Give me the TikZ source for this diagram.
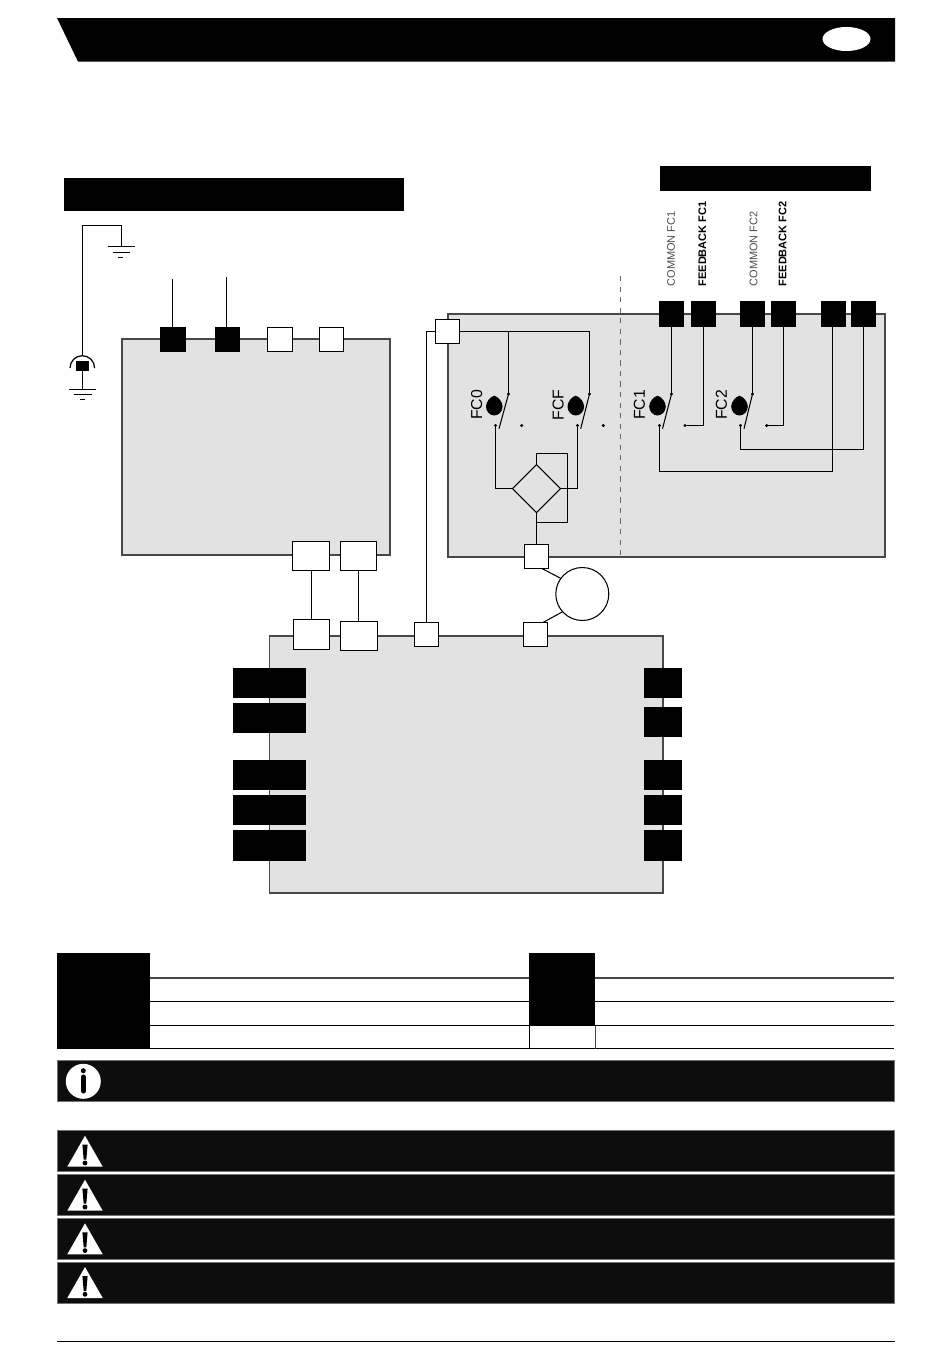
\documentclass[tikz,border=0pt]{standalone}
\usepackage{fontspec}
\setmainfont{Liberation Sans}
\usetikzlibrary{calc,shapes.geometric}
\definecolor{panelgray}{HTML}{E2E2E2}
\definecolor{edgegray}{HTML}{484848}
\definecolor{barblack}{HTML}{0D0D0D}
\tikzset{
  wh/.style 2 args={minimum width=#1*0.02cm, minimum height=#2*0.02cm, inner sep=0pt, outer sep=0pt},
  wire/.style={line width=0.6pt},
  panel/.style={fill=panelgray, draw=edgegray, line width=0.9pt},
  whiteport/.style={fill=white, draw=black, line width=0.6pt},
  blackport/.style={fill=black},
  bar/.style={fill=barblack, draw=black!55, line width=0.3pt},
  contact/.style={circle, fill=black, wh={3.4}{3.4}},
  swlabel/.style={rotate=90, font=\fontsize{9}{9}\selectfont},
  cmlabel/.style={rotate=90, anchor=west, inner sep=0pt, font=\fontsize{6.25}{6.25}\selectfont, text=black!70},
  fblabel/.style={rotate=90, anchor=west, inner sep=0pt, font=\fontsize{6.25}{6.25}\selectfont\bfseries},
  cam/.pic={
    \fill (0,-10) .. controls (4,-9) and (8.3,-4) .. (8.3,1) .. controls (8.3,5.5) and (4.5,9.8) .. (0,9.8)
      .. controls (-4.5,9.8) and (-8.3,5.5) .. (-8.3,1) .. controls (-8.3,-4) and (-4,-9) .. (0,-10) -- cycle;
  },
  warning/.pic={
    \fill [white] (0,0) -- (17.7,31) -- (-17.7,31) -- cycle;
    \fill [black] (-2.6,9) -- (2.6,9) -- (1.3,24) -- (-1.3,24) -- cycle;
    \fill [black] (0,27.3) circle (2.4);
  },
}

\begin{document}
\begin{tikzpicture}[x=0.02cm, y=-0.02cm]
  \useasboundingbox (0,0) rectangle (950,1370);
  % header
  \fill [black] (57,18) -- (895,18) -- (895,61.5) -- (78,61.5) -- cycle;
  \node [ellipse, fill=white, wh={48}{24}] (badge) at (846.5,39) {};
  \node [blackport, wh={340}{33}] (titlea) at (234,194.5) {};
  \node [blackport, wh={211}{25}] (titleb) at (765.5,178.5) {};

  % panels
  \node [panel, wh={268}{216}] (boxa) at (256,447) {};
  \node [panel, wh={437}{243}] (boxb) at (666.5,435.5) {};
  \node [panel, wh={393.5}{257}] (boxc) at (466.25,764.5) {};
  \draw [dashed, black!60, line width=0.45pt] (620.5,276) -- (620.5,557);

  % earth
  \coordinate (ea) at (82.5,355.7);
  \coordinate (eb) at (121.5,225.5);
  \coordinate (ec) at (121.5,246);
  \coordinate (ed) at (82.5,389);
  \draw [wire] (ea) |- (eb) -- (ec);
  \draw [wire] (108,246.5) -- (134.7,246.5);
  \draw [wire] (112.7,252.5) -- (130,252.5);
  \draw [wire] (118.3,257.5) -- (123.3,257.5);
  \draw [line width=0.7pt] (70,368) arc[start angle=180, end angle=360, radius=12.3];
  \node [blackport, wh={12.7}{9.7}] (plug) at (82.5,365.8) {};
  \draw [wire] (plug) -- (ed);
  \draw [wire] (69.3,389.5) -- (96,389.5);
  \draw [wire] (74.3,394.5) -- (91.7,394.5);
  \draw [wire] (80,399.5) -- (85,399.5);

  % panel a ports
  \node [blackport, wh={26}{25}] (pa1) at (173,339.5) {};
  \node [blackport, wh={25}{25}] (pa2) at (227.5,339.5) {};
  \node [whiteport, wh={24.7}{24.5}] (pa3) at (280.3,339.3) {};
  \node [whiteport, wh={24.7}{24.5}] (pa4) at (331.5,339.3) {};
  \node [whiteport, wh={37}{29}] (pa5) at (310.8,555.8) {};
  \node [whiteport, wh={36.4}{29}] (pa6) at (358.5,555.8) {};
  \coordinate (ta1) at (172.5,279.3);
  \coordinate (ta2) at (226.5,277.3);
  \draw [wire] (ta1) -- (ta1 |- pa1.north);
  \draw [wire] (ta2) -- (ta2 |- pa2.north);

  % panel c ports
  \node [whiteport, wh={36.4}{30}] (pc1) at (311.5,634.3) {};
  \node [whiteport, wh={37}{29}] (pc2) at (358.8,635.8) {};
  \node [whiteport, wh={24.4}{24}] (pc3) at (426.5,634.3) {};
  \node [whiteport, wh={24.4}{24}] (pc4) at (535.5,634.3) {};
  \node [blackport, wh={73}{30}] (pl1) at (269.5,683) {};
  \node [blackport, wh={73}{30}] (pl2) at (269.5,718) {};
  \node [blackport, wh={73}{30}] (pl3) at (269.5,775) {};
  \node [blackport, wh={73}{30}] (pl4) at (269.5,810) {};
  \node [blackport, wh={73}{31}] (pl5) at (269.5,845.5) {};
  \node [blackport, wh={38}{30}] (pr1) at (663,683) {};
  \node [blackport, wh={38}{30}] (pr2) at (663,722) {};
  \node [blackport, wh={38}{30}] (pr3) at (663,775) {};
  \node [blackport, wh={38}{30}] (pr4) at (663,810) {};
  \node [blackport, wh={38}{31}] (pr5) at (663,845.5) {};
  \draw [wire] (pa5.south -| pc1) -- (pc1);
  \draw [wire] (pa6) -- (pa6 |- pc2.north);

  % panel b ports
  \node [whiteport, wh={24}{24}] (pk) at (447.3,331.5) {};
  \node [whiteport, wh={24.4}{24}] (pd) at (536.5,556.3) {};
  \node [blackport, wh={24.7}{25.7}] (pb1) at (671.5,313.8) {};
  \node [blackport, wh={24.7}{25.7}] (pb2) at (703.5,313.8) {};
  \node [blackport, wh={24.7}{25.7}] (pb3) at (752.5,313.8) {};
  \node [blackport, wh={24.7}{25.7}] (pb4) at (783.5,313.8) {};
  \node [blackport, wh={24.7}{25.7}] (pb5) at (833.3,313.8) {};
  \node [blackport, wh={24.7}{25.7}] (pb6) at (863.5,313.8) {};
  \node [cmlabel] (cm1) at (671,286.7) {COMMON FC1};
  \node [fblabel] (fb1) at (702.3,286.7) {FEEDBACK FC1};
  \node [cmlabel] (cm2) at (753.5,286.7) {COMMON FC2};
  \node [fblabel] (fb2) at (782.7,286.7) {FEEDBACK FC2};

  % motor
  \node [circle, fill=white, draw=black, line width=0.6pt, wh={53}{53}] (motor) at (582.3,594) {};
  \draw [wire] (pd.-67) -- (motor.144);
  \draw [wire] (pc4.57) -- (motor.222);

  % switches
  \node [contact] (k0t) at (508.5,394) {};
  \node [contact] (k0a) at (495.5,425.5) {};
  \node [contact] (k0b) at (521.7,425.5) {};
  \coordinate (k0e) at (499,428.7);
  \draw [wire] (k0t.center) -- (k0e);
  \pic at (494.3,405.7) {cam};
  \node [swlabel] (l0) at (476.7,405) {FC0};
  \node [contact] (kft) at (589.5,394) {};
  \node [contact] (kfa) at (577.5,425.5) {};
  \node [contact] (kfb) at (603.3,425.5) {};
  \coordinate (kfe) at (580.7,428.7);
  \draw [wire] (kft.center) -- (kfe);
  \pic at (575.8,405.7) {cam};
  \node [swlabel] (lf) at (558.2,405) {FCF};
  \node [contact] (k1t) at (671.5,394) {};
  \node [contact] (k1a) at (659.5,425.5) {};
  \node [contact] (k1b) at (685,425.5) {};
  \coordinate (k1e) at (662.5,428.7);
  \draw [wire] (k1t.center) -- (k1e);
  \pic at (657.5,405.7) {cam};
  \node [swlabel] (l1) at (639.5,405) {FC1};
  \node [contact] (k2t) at (752.5,394) {};
  \node [contact] (k2a) at (740.5,425.5) {};
  \node [contact] (k2b) at (766.7,425.5) {};
  \coordinate (k2e) at (744,428.7);
  \draw [wire] (k2t.center) -- (k2e);
  \pic at (739.5,405.7) {cam};
  \node [swlabel] (l2) at (721.5,405) {FC2};

  % wiring of panel b
  \draw [wire] (pk.east) -| (kft.center);
  \draw [wire] (k0t |- pk) -- (k0t.center);
  \draw [wire] (pk.west) -| (pc3.north);
  \draw [wire] (pb1) -- (k1t.center);
  \draw [wire] (pb3) -- (k2t.center);
  \draw [wire] (pb2) |- (k1b.center);
  \draw [wire] (pb4) |- (k2b.center);
  \coordinate (w1) at (659.5,471.5);
  \coordinate (w2) at (740.5,449.5);
  \coordinate (w3) at (832.5,326);
  \draw [wire] (k1a.center) -- (w1) -| (w3);
  \draw [wire] (k2a.center) -- (w2) -| (pb6);

  % rectifier
  \node [diamond, draw=black, line width=0.6pt, aspect=1, wh={48}{48}] (dio) at (536.5,488.5) {};
  \coordinate (r1) at (567.5,453.5);
  \coordinate (r2) at (567.5,522.5);
  \draw [wire] (k0a.center) |- (dio.west);
  \draw [wire] (kfa.center) |- (dio.east);
  \draw [wire] (dio.north) |- (r1) -- (r2) -| (dio.south);
  \draw [wire] (dio.south) -- (pd.north);

  % legend
  \draw [edgegray, line width=0.9pt] (150,978) -- (894,978);
  \draw [wire] (150,1001.5) -- (894,1001.5);
  \draw [wire] (150,1025.5) -- (894,1025.5);
  \draw [wire] (150,1048.5) -- (894,1048.5);
  \draw [wire] (529.5,1025.5) -- (529.5,1048.5);
  \draw [edgegray, wire] (595.5,1025.5) -- (595.5,1048.5);
  \node [blackport, wh={93.6}{95.7}] (lega) at (103.5,1001.2) {};
  \node [blackport, wh={66}{72}] (legb) at (562.3,989.3) {};

  % notes
  \node [bar, wh={837}{40.6}] (note0) at (475.5,1081) {};
  \fill [white] (83.3,1081.3) circle (17.5);
  \fill [black] (83.3,1070.7) circle (2.5);
  \draw [black, line width=2.9pt, line cap=round] (83.3,1077) -- (83.3,1091);
  \node [bar, wh={837}{40.3}] (note1) at (475.5,1150.8) {};
  \node [bar, wh={837}{40.6}] (note2) at (475.5,1195) {};
  \node [bar, wh={837}{41}] (note3) at (475.5,1238.8) {};
  \node [bar, wh={837}{41.3}] (note4) at (475.5,1282.6) {};
  \pic at (85,1135.7) {warning};
  \pic at (85,1179.7) {warning};
  \pic at (85,1223.3) {warning};
  \pic at (85,1267) {warning};

  % footer
  \draw [black, line width=0.6pt] (57,1341.5) -- (895,1341.5);
\end{tikzpicture}
\end{document}
